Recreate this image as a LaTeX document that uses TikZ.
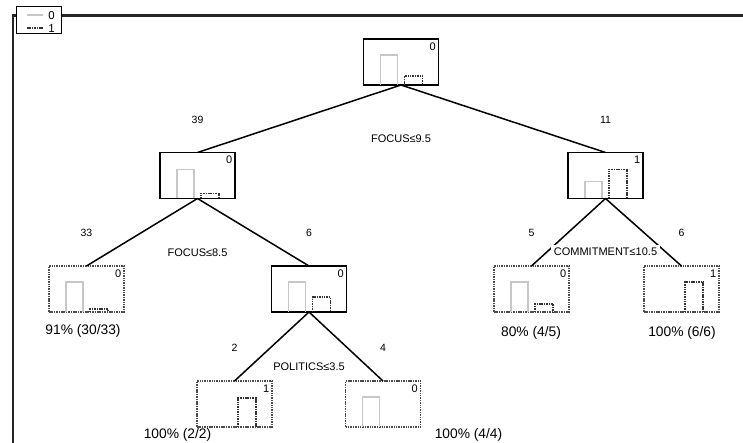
\documentclass[tikz,border=0pt]{standalone}
\usepackage{fontspec}
\setmainfont{Liberation Sans}
\begin{document}
\begin{tikzpicture}[x=1pt,y=-1pt,
  splitbox/.style={draw=black, line width=1.6pt, minimum width=75pt, minimum height=46pt, inner sep=0pt, outer sep=0pt},
  leafbox/.style={splitbox, draw=black!70, dash pattern=on 1.5pt off 0.9pt},
  bar0/.style={draw=black!22, line width=1.6pt},
  bar1/.style={draw=black!80, line width=1.6pt, dash pattern=on 1.5pt off 0.9pt},
  edge/.style={draw=black, line width=1.5pt},
  frame/.style={draw=black!85, line width=2.2pt},
  clslbl/.style={anchor=north east, inner sep=0pt, font=\fontsize{11}{12}\selectfont},
  countlbl/.style={inner sep=1pt, font=\fontsize{10.5}{12}\selectfont},
  splitlbl/.style={fill=white, inner sep=3pt, font=\fontsize{11}{13}\selectfont},
  acclbl/.style={inner sep=1pt, font=\fontsize{13.8}{16}\selectfont}]

\useasboundingbox (0,0) rectangle (743,443);

% Legend and outer frame
\node[draw=black, line width=1.6pt, minimum width=45pt, minimum height=27pt, inner sep=0pt] (legend) at (39,20) {};
\draw[bar0] (27,15) -- (43,15);
\node[countlbl, font=\fontsize{11.5}{13}\selectfont] (leg0) at (51.5,15.5) {0};
\draw[bar1] (27,28) -- (43,28);
\node[countlbl, font=\fontsize{11.5}{13}\selectfont] (leg1) at (51.5,28.5) {1};
\coordinate (ftop) at (13,15.5);
\draw[frame] (13,443) -- (ftop) -- (legend.west |- ftop);
\draw[frame] (legend.east |- ftop) -- (743,15.5);

% Tree nodes: name / x / y / box / class / bar heights (0 and 1)
\foreach \n/\x/\y/\kind/\cls/\ha/\hb in {
  root/401/62/splitbox/0/30/9,
  nL/197.5/175.5/splitbox/0/29/5,
  nR/605.5/175.5/splitbox/1/17/29,
  nLL/86.5/289/leafbox/0/30/3,
  nLR/309/289/splitbox/0/30/15,
  nRL/531.5/289/leafbox/0/30/8,
  nRR/681.5/289/leafbox/1/0/30,
  nLRL/234.5/404/leafbox/1/0/29,
  nLRR/383/404/leafbox/0/30/0}
{
  \node[\kind] (\n) at (\x,\y) {};
  \node[clslbl] (\n-cls) at ([shift={(-2.5,3.5)}]\n.north east) {\cls};
  \ifnum\ha>0
    \draw[bar0] ([xshift=17pt]\n.south west) -- ++(0,-\ha) -- ++(17,0) -- ++(0,\ha);
  \fi
  \ifnum\hb>0
    \draw[bar1] ([xshift=41pt]\n.south west) -- ++(0,-\hb) -- ++(18,0) -- ++(0,\hb);
  \fi
}

% Branches
\foreach \a/\b in {root/nL, root/nR, nL/nLL, nL/nLR, nR/nRL, nR/nRR, nLR/nLRL, nLR/nLRR}
  \draw[edge] (\a.south) -- (\b.north);

% Split conditions
\node[splitlbl] (s-root) at ([yshift=-54pt]root.south) {FOCUS≤9.5};
\node[splitlbl] (s-nL) at ([yshift=-54pt]nL.south) {FOCUS≤8.5};
\node[splitlbl] (s-nR) at ([yshift=-53pt]nR.south) {COMMITMENT≤10.5};
\node[splitlbl] (s-nLR) at ([yshift=-55pt]nLR.south) {POLITICS≤3.5};

% Sample counts
\foreach \b/\k in {nL/39, nR/11, nLL/33, nLR/6, nRL/5, nRR/6, nLRL/2, nLRR/4}
  \node[countlbl] (\b-n) at ([yshift=33pt]\b.north) {\k};

% Leaf accuracy
\node[acclbl] (a-nLL) at (83,331) {91\% (30/33)};
\node[acclbl] (a-nRL) at (531,333) {80\% (4/5)};
\node[acclbl] (a-nRR) at (682,333) {100\% (6/6)};
\node[acclbl] (a-nLRL) at (177.5,435) {100\% (2/2)};
\node[acclbl] (a-nLRR) at (468.5,435) {100\% (4/4)};

\end{tikzpicture}
\end{document}
